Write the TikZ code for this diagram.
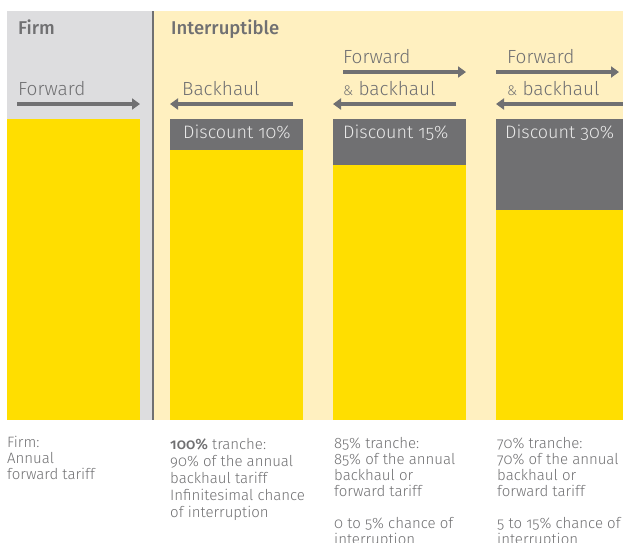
\documentclass[tikz,border=0pt]{standalone}
\usepackage{fontspec}
\setmainfont{Fira Sans Light}[BoldFont={Fira Sans Medium}, Numbers=OldStyle]
\usetikzlibrary{arrows.meta}
\definecolor{eyyellow}{RGB}{255,222,0}
\definecolor{eygray}{RGB}{112,112,114}
\definecolor{firmbg}{RGB}{221,221,223}
\definecolor{intbg}{RGB}{255,240,192}
\definecolor{disctext}{RGB}{232,232,232}
\tikzset{
  lbl/.style={anchor=base west, inner sep=0pt, text=eygray, font=\fontsize{19}{22}\selectfont},
  head/.style={lbl, font=\fontsize{18.5}{22}\selectfont\bfseries},
  disc/.style={anchor=base west, inner sep=0pt, text=disctext, font=\fontsize{18}{22}\selectfont},
  note/.style={anchor=north west, inner sep=0pt, text=eygray, align=left},
  flow/.style={draw=eygray, line width=4pt, -{Triangle[width=11pt,length=8pt]}},
}
\newcommand{\amp}{{\fontsize{14}{22}\selectfont\&}}
\begin{document}
\begin{tikzpicture}[x=1pt,y=-1pt]
\useasboundingbox (0,0) rectangle (623,542);
% backgrounds
\fill[firmbg] (7,11) rectangle (153,420);
\fill[intbg] (153,11) rectangle (623,420);
\draw[eygray, line width=2pt] (153,11) -- (153,420);
% bars
\fill[eyyellow] (7,119) rectangle (140,420);
\fill[eyyellow] (170,150) rectangle (303,420);
\fill[eygray] (170,119) rectangle (303,150);
\fill[eyyellow] (333,165) rectangle (466,420);
\fill[eygray] (333,119) rectangle (466,165);
\fill[eyyellow] (496,210) rectangle (623,420);
\fill[eygray] (496,119) rectangle (623,210);
% headings
\node[head] (hfirm) at (18,34) {Firm};
\node[head] (hint) at (171,34) {Interruptible};
% direction labels
\node[lbl] (lf1) at (18,95) {Forward};
\node[lbl] (lb2) at (182,95) {Backhaul};
\node[lbl] (lf3) at (343,63) {Forward};
\node[lbl] (lb3) at (343,95) {\amp\ backhaul};
\node[lbl] (lf4) at (507,63) {Forward};
\node[lbl] (lb4) at (507,95) {\amp\ backhaul};
% arrow end points
\coordinate (a1s) at (17,104);  \coordinate (a1e) at (140,104);
\coordinate (a2s) at (293,104); \coordinate (a2e) at (170,104);
\coordinate (a3s) at (343,72);  \coordinate (a3e) at (466,72);
\coordinate (a4s) at (456,104); \coordinate (a4e) at (333,104);
\coordinate (a5s) at (496,72);  \coordinate (a5e) at (619,72);
\coordinate (a6s) at (623,104); \coordinate (a6e) at (496,104);
\draw[flow] (a1s) -- (a1e);
\draw[flow] (a2s) -- (a2e);
\draw[flow] (a3s) -- (a3e);
\draw[flow] (a4s) -- (a4e);
\draw[flow] (a5s) -- (a5e);
\draw[flow] (a6s) -- (a6e);
% discounts
\node[disc] (d2) at (183,138) {Discount 10\%};
\node[disc] (d3) at (343,138) {Discount 15\%};
\node[disc] (d4) at (505,138) {Discount 30\%};
% notes below the bars
\node[note, font=\fontsize{15}{16}\selectfont] (n1) at (7,436) {Firm:\\Annual\\forward tariff};
\node[note, font=\fontsize{15}{17}\selectfont] (n2) at (170,438) {\textbf{100\%} tranche:\\90\% of the annual\\backhaul tariff\\Infinitesimal chance\\of interruption};
\node[note, font=\fontsize{15}{16}\selectfont] (n3) at (334,437) {85\% tranche:\\85\% of the annual\\backhaul or\\forward tariff\\[16pt]0 to 5\% chance of\\interruption};
\node[note, font=\fontsize{15}{16}\selectfont] (n4) at (497,437) {70\% tranche:\\70\% of the annual\\backhaul or\\forward tariff\\[16pt]5 to 15\% chance of\\interruption};
\end{tikzpicture}
\end{document}
